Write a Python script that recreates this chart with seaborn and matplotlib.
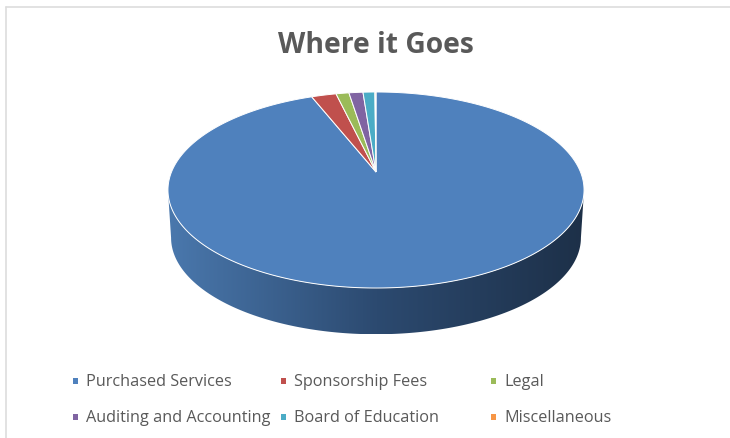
import numpy as np
import matplotlib
matplotlib.use("Agg")
import matplotlib.pyplot as plt
from matplotlib.patches import Polygon, Rectangle
import seaborn as sns

categories = ["Purchased Services", "Sponsorship Fees", "Legal",
              "Auditing and Accounting", "Board of Education", "Miscellaneous"]
shares = [94.0, 2.3, 1.2, 1.3, 1.1, 0.1]
colors = ["#4F81BD", "#C0504D", "#9BBB59", "#8064A2", "#4BACC6", "#F79646"]
wall_colors = ["#4A78AD", "#2C4A70", "#1D3048"]

sns.set_theme(style="white")
plt.rcParams["font.family"] = ["Open Sans", "DejaVu Sans"]

fig = plt.figure(figsize=(7.3, 4.38), dpi=100)
ax = fig.add_axes([0, 0, 1, 1])
ax.set_axis_off()

# Perspective view of a flat disc; the canvas is measured in pixels.
APEX_X, APEX_Y = 376.0, 172.0
RADIUS, TILT, PERSPECTIVE = 204.5, 94.7, 0.1837
DEPTH, BASE_SCALE = 48.0, 0.985


def project(u, v, drop=0.0, scale=1.0):
    w = 1 + PERSPECTIVE * v
    return APEX_X + scale * RADIUS * u / w, APEX_Y + drop - scale * TILT * v / w


# Side wall, shaded left to right and clipped to the front of the disc.
start = np.arcsin(PERSPECTIVE)
t = np.linspace(np.pi + start, 2 * np.pi - start, 300)
top_x, top_y = project(np.cos(t), np.sin(t))
low_x, low_y = project(np.cos(t), np.sin(t), DEPTH, BASE_SCALE)
outline = np.column_stack([np.r_[top_x, low_x[::-1]], np.r_[top_y, low_y[::-1]]])
wall = Polygon(outline, closed=True, facecolor="none", edgecolor="none")
ax.add_patch(wall)
cmap = sns.blend_palette(wall_colors, as_cmap=True)
shade = ax.imshow(np.linspace(0, 1, 256)[None, :], cmap=cmap, aspect="auto",
                  extent=(outline[:, 0].min(), outline[:, 0].max(),
                          outline[:, 1].max(), outline[:, 1].min()), zorder=1)
shade.set_clip_path(wall)

# Top face: one wedge per category, clockwise from twelve o'clock.
edges = np.r_[0, np.cumsum(shares)] / np.sum(shares) * 2 * np.pi
for a, b, color in zip(edges[:-1], edges[1:], colors):
    theta = np.linspace(a, b, max(3, int((b - a) * 120)))
    x, y = project(np.sin(theta), np.cos(theta))
    ax.fill(np.r_[APEX_X, x], np.r_[APEX_Y, y], facecolor=color,
            edgecolor="white", linewidth=0.7, zorder=2)

# Chart frame: left and top rules only.
frame = "#DDDDDD"
ax.plot([6, 6], [7, 438], color=frame, lw=1.2, zorder=0)
ax.plot([6, 730], [7, 7], color=frame, lw=1.2, zorder=0)

ax.text(376, 53, "Where it Goes", ha="center", va="baseline", fontsize=20.3,
        fontweight="bold", color="#595959", zorder=3)

# Legend laid out in two rows of three.
column_x = [75, 283, 493]
row_y = [381, 417]
for i, (label, color) in enumerate(zip(categories, colors)):
    cx, cy = column_x[i % 3], row_y[i // 3]
    ax.add_patch(Rectangle((cx - 2.5, cy - 3.5), 5.5, 6.5, facecolor=color,
                           edgecolor="none", zorder=3))
    ax.text(cx + 11, cy + 1.5, label, ha="left", va="center", fontsize=11.7,
            color="#595959", zorder=3)

ax.set_xlim(0, 730)
ax.set_ylim(438, 0)
fig.savefig("out.png", dpi=100, facecolor="white")
